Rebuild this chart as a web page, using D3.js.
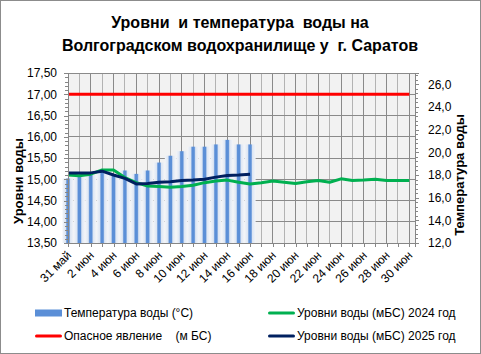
<!DOCTYPE html>
<html>
<head>
<meta charset="utf-8">
<script src="https://cdn.jsdelivr.net/npm/d3@7/dist/d3.min.js"></script>
<style>
body { margin: 0; background: #fff; }
text { font-family: "Liberation Sans", Arial, sans-serif; white-space: pre; }
</style>
</head>
<body>
<script>
// data
var days = ["31 май", "1 июн", "2 июн", "3 июн", "4 июн", "5 июн", "6 июн", "7 июн", "8 июн", "9 июн",
  "10 июн", "11 июн", "12 июн", "13 июн", "14 июн", "15 июн", "16 июн", "17 июн", "18 июн", "19 июн",
  "20 июн", "21 июн", "22 июн", "23 июн", "24 июн", "25 июн", "26 июн", "27 июн", "28 июн", "29 июн", "30 июн"];

var temp = [17.7, 17.9, 18.0, 18.3, 18.0, 18.4, 18.1, 18.4, 19.1, 19.7, 20.1, 20.5, 20.5, 20.7, 21.1, 20.7, 20.7];

var level2024 = [15.10, 15.08, 15.12, 15.22, 15.22, 15.04, 14.92, 14.84, 14.83, 14.81, 14.83, 14.86, 14.92, 14.96,
  14.98, 14.93, 14.89, 14.92, 14.96, 14.93, 14.90, 14.94, 14.97, 14.93, 15.01, 14.97, 14.98, 15.00, 14.97, 14.97, 14.97];

var level2025 = [15.15, 15.15, 15.15, 15.19, 15.10, 15.02, 14.89, 14.90, 14.93, 14.94, 14.97, 14.98, 15.00, 15.05,
  15.09, 15.10, 15.12];

var danger = 17.00;

var levelTicks = [13.5, 14.0, 14.5, 15.0, 15.5, 16.0, 16.5, 17.0, 17.5];
var tempTicks = [12, 14, 16, 18, 20, 22, 24, 26];

var width = 481, height = 354;

var svg = d3.select('body').append('svg')
  .attr('width', width)
  .attr('height', height);

var x = d3.scaleLinear().domain([0, 30.5]).range([68, 415]);
var y = d3.scaleLinear().domain([13.5, 17.5]).range([243, 73]);
var y2 = d3.scaleLinear().domain([12, 27]).range([243, 73]);

// gradient for the bars
var grad = svg.append('defs').append('linearGradient')
  .attr('id', 'barGrad')
  .attr('x1', 0).attr('x2', 1).attr('y1', 0).attr('y2', 0);
[[0, '#f3f5f9'], [0.28, '#dde6f3'], [0.4, '#5b8fd7'], [0.6, '#5b8fd7'], [0.72, '#dde6f3'], [1, '#f3f5f9']]
  .forEach(function(s) {
    grad.append('stop').attr('offset', s[0]).attr('stop-color', s[1]);
  });

// plot area
svg.append('rect')
  .attr('x', x.range()[0]).attr('y', 73)
  .attr('width', x.range()[1] - x.range()[0]).attr('height', 170)
  .attr('fill', '#f2f2f2');

// vertical gridlines
svg.append('g').selectAll('line')
  .data(days)
  .enter().append('line')
  .attr('x1', function(d, i) { return x(i); })
  .attr('x2', function(d, i) { return x(i); })
  .attr('y1', 73).attr('y2', 243)
  .attr('stroke', function(d, i) { return i % 2 ? '#b3b3b3' : '#8a8a8a'; })
  .attr('stroke-width', 1)
  .attr('shape-rendering', 'crispEdges');

// horizontal gridlines
svg.append('g').selectAll('line')
  .data(levelTicks)
  .enter().append('line')
  .attr('x1', 68).attr('x2', 415)
  .attr('y1', function(d) { return y(d); })
  .attr('y2', function(d) { return y(d); })
  .attr('stroke', '#8a8a8a')
  .attr('shape-rendering', 'crispEdges');

// temperature bars
var band = (x(1) - x(0)) * 0.98;
svg.append('g').selectAll('rect')
  .data(temp)
  .enter().append('rect')
  .attr('x', function(d, i) { return x(i) - band / 2; })
  .attr('y', function(d) { return y2(d); })
  .attr('width', band)
  .attr('height', function(d) { return y2(12) - y2(d); })
  .attr('fill', 'url(#barGrad)');

// lines
var line = d3.line()
  .x(function(d, i) { return x(i); })
  .y(function(d) { return y(d); });

svg.append('path')
  .datum(days.map(function() { return danger; }))
  .attr('d', line)
  .attr('fill', 'none')
  .attr('stroke', '#ff0000')
  .attr('stroke-width', 3);

svg.append('path')
  .datum(level2024)
  .attr('d', line)
  .attr('fill', 'none')
  .attr('stroke', '#00b050')
  .attr('stroke-width', 3)
  .attr('stroke-linejoin', 'round');

svg.append('path')
  .datum(level2025)
  .attr('d', line)
  .attr('fill', 'none')
  .attr('stroke', '#002060')
  .attr('stroke-width', 3)
  .attr('stroke-linejoin', 'round');

// axes
function comma(n) { return function(d) { return d.toFixed(n).replace('.', ','); }; }

svg.append('g')
  .attr('transform', 'translate(68,0)')
  .call(d3.axisLeft(y).tickValues(levelTicks).tickFormat(comma(2)).tickSize(4).tickPadding(7));

svg.append('g')
  .attr('transform', 'translate(68,0)')
  .call(d3.axisLeft(y).tickValues(d3.range(0, 41).map(function(k) { return 13.5 + k * 0.1; }))
    .tickFormat('').tickSize(3));

svg.append('g')
  .attr('transform', 'translate(415,0)')
  .call(d3.axisRight(y2).tickValues(tempTicks).tickFormat(comma(1)).tickSize(4).tickPadding(9));

svg.append('g')
  .attr('transform', 'translate(415,0)')
  .call(d3.axisRight(y2).tickValues(d3.range(0, 38).map(function(k) { return 12 + k * 0.4; }))
    .tickFormat('').tickSize(3));

svg.append('g')
  .attr('transform', 'translate(0,243)')
  .call(d3.axisBottom(x).tickValues(d3.range(0, 31)).tickFormat('').tickSize(4));

svg.selectAll('.domain, .tick line')
  .attr('stroke', '#868686')
  .attr('shape-rendering', 'crispEdges');
svg.selectAll('.tick text')
  .attr('font-size', 12)
  .attr('fill', '#000');

// date labels every second day
svg.append('g').selectAll('text')
  .data(days.filter(function(d, i) { return i % 2 === 0; }))
  .enter().append('text')
  .attr('transform', function(d, i) { return 'translate(' + (x(i * 2) + 4) + ',256) rotate(-45)'; })
  .attr('text-anchor', 'end')
  .attr('font-size', 12)
  .text(function(d) { return d; });

// titles
svg.append('text')
  .attr('x', 240).attr('y', 28)
  .attr('text-anchor', 'middle')
  .attr('font-size', 16).attr('font-weight', 'bold')
  .text('Уровни  и температура  воды на');
svg.append('text')
  .attr('x', 240).attr('y', 51)
  .attr('text-anchor', 'middle')
  .attr('font-size', 16).attr('font-weight', 'bold')
  .text('Волгоградском водохранилище у  г. Саратов');

svg.append('text')
  .attr('transform', 'translate(23,181) rotate(-90)')
  .attr('text-anchor', 'middle')
  .attr('font-size', 13).attr('font-weight', 'bold')
  .text('Уровни воды');
svg.append('text')
  .attr('transform', 'translate(464,175) rotate(-90)')
  .attr('text-anchor', 'middle')
  .attr('font-size', 13).attr('font-weight', 'bold')
  .text('Температура воды');

// legend
var legend = [
  { name: 'Температура воды (°C)', color: '#5b8fd7', type: 'rect', x: 35, y: 313 },
  { name: 'Опасное явление    (м БС)', color: '#ff0000', type: 'line', x: 35, y: 336 },
  { name: 'Уровни воды (мБС) 2024 год', color: '#00b050', type: 'line', x: 268, y: 313 },
  { name: 'Уровни воды (мБС) 2025 год', color: '#002060', type: 'line', x: 268, y: 336 }
];
var lg = svg.append('g').selectAll('g')
  .data(legend)
  .enter().append('g')
  .attr('transform', function(d) { return 'translate(' + d.x + ',' + d.y + ')'; });
lg.append('rect')
  .attr('x', 0).attr('width', 27)
  .attr('y', function(d) { return d.type === 'rect' ? -3.5 : -1.5; })
  .attr('height', function(d) { return d.type === 'rect' ? 7 : 3; })
  .attr('rx', function(d) { return d.type === 'rect' ? 0 : 1.5; })
  .attr('fill', function(d) { return d.color; });
lg.append('text')
  .attr('x', 29).attr('y', 4)
  .attr('font-size', 12)
  .text(function(d) { return d.name; });

// outer border
svg.append('rect')
  .attr('x', 0.5).attr('y', 0.5)
  .attr('width', width - 1).attr('height', height - 1)
  .attr('fill', 'none')
  .attr('stroke', '#8c8c8c');
</script>
</body>
</html>
